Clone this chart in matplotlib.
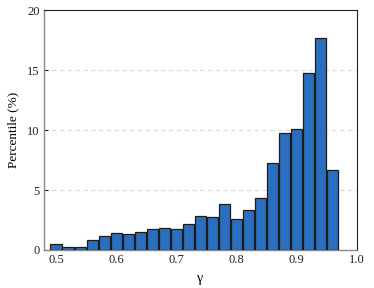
import numpy as np
import matplotlib
matplotlib.use("Agg")
import matplotlib.pyplot as plt

plt.rcParams['font.family'] = ['Liberation Serif', 'DejaVu Serif']

# histogram of gamma, bin width 0.02
bin_centers = [0.50, 0.52, 0.54, 0.56, 0.58, 0.60, 0.62, 0.64, 0.66, 0.68, 0.70, 0.72,
               0.74, 0.76, 0.78, 0.80, 0.82, 0.84, 0.86, 0.88, 0.90, 0.92, 0.94, 0.96]
percent = [0.5, 0.28, 0.28, 0.8, 1.17, 1.42, 1.3, 1.47, 1.72, 1.83, 1.72, 2.19,
           2.8, 2.72, 3.8, 2.56, 3.3, 4.36, 7.28, 9.72, 10.05, 14.72, 17.7, 6.64]
x_ticks = [0.5, 0.6, 0.7, 0.8, 0.9, 1.0]
y_ticks = [0, 5, 10, 15, 20]

fig = plt.figure(figsize=(3.74, 2.88), dpi=100)
ax = fig.add_axes([0.1176, 0.132, 0.8369, 0.833])

ax.bar(bin_centers, percent, width=0.0185, color='#2a6fbf', edgecolor='#1c1c1c',
       linewidth=0.9, zorder=3)

for y in y_ticks[1:-1]:
    ax.axhline(y, color='#d8d8d8', linestyle=(0, (4, 3)), linewidth=0.8, zorder=1)

ax.set_xlim(0.48, 1.0)
ax.set_ylim(0, 20)
ax.set_xticks(x_ticks)
ax.set_xticklabels(['0.5', '0.6', '0.7', '0.8', '0.9', '1.0'])
ax.set_yticks(y_ticks)
ax.tick_params(direction='in', length=3, width=0.8, labelsize=9, colors='#222222', pad=3)
ax.tick_params(axis='x', top=False)
ax.tick_params(axis='y', right=False)

for s in ['top', 'right']:
    ax.spines[s].set_color('#222222')
    ax.spines[s].set_linewidth(0.8)
for s in ['left', 'bottom']:
    ax.spines[s].set_color('#888888')
    ax.spines[s].set_linewidth(1.0)

ax.set_xlabel('γ', fontsize=10, labelpad=4)
ax.set_ylabel('Percentile (%)', fontsize=9.5, labelpad=6)

fig.savefig('out.png', dpi=100)
